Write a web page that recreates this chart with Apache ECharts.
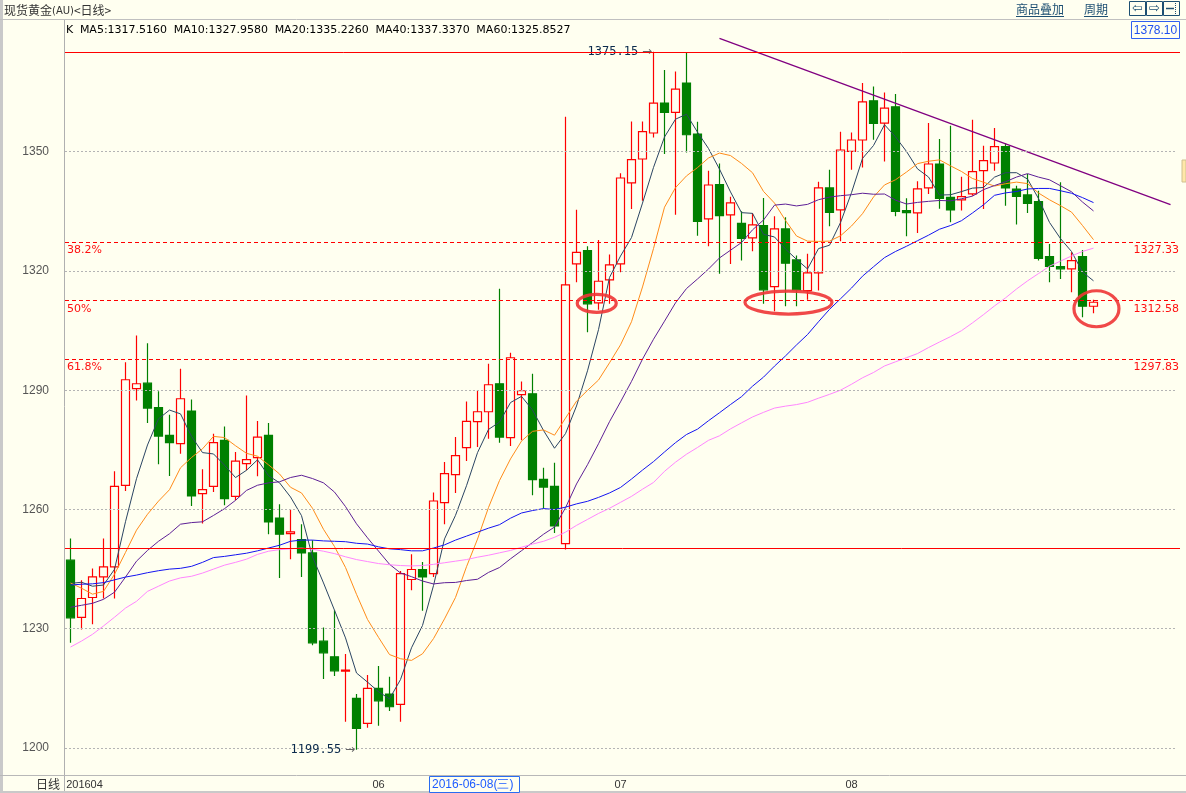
<!DOCTYPE html>
<html><head><meta charset="utf-8">
<script src="https://cdn.jsdelivr.net/npm/echarts@6/dist/echarts.min.js"></script>
<style>html,body{margin:0;padding:0;background:#FFFFF0;overflow:hidden}#c{width:1186px;height:793px}</style>
</head><body><div id="c"></div>
<script>
// ---------------- data ----------------
const dates = ['2016-04-22','2016-04-25','2016-04-26','2016-04-27','2016-04-28','2016-04-29',
'2016-05-02','2016-05-03','2016-05-04','2016-05-05','2016-05-06','2016-05-09','2016-05-10','2016-05-11','2016-05-12','2016-05-13','2016-05-16','2016-05-17','2016-05-18','2016-05-19','2016-05-20','2016-05-23','2016-05-24','2016-05-25','2016-05-26','2016-05-27','2016-05-30','2016-05-31',
'2016-06-01','2016-06-02','2016-06-03','2016-06-06','2016-06-07','2016-06-08','2016-06-09','2016-06-10','2016-06-13','2016-06-14','2016-06-15','2016-06-16','2016-06-17','2016-06-20','2016-06-21','2016-06-22','2016-06-23','2016-06-24','2016-06-27','2016-06-28','2016-06-29','2016-06-30',
'2016-07-01','2016-07-04','2016-07-05','2016-07-06','2016-07-07','2016-07-08','2016-07-11','2016-07-12','2016-07-13','2016-07-14','2016-07-15','2016-07-18','2016-07-19','2016-07-20','2016-07-21','2016-07-22','2016-07-25','2016-07-26','2016-07-27','2016-07-28','2016-07-29',
'2016-08-01','2016-08-02','2016-08-03','2016-08-04','2016-08-05','2016-08-08','2016-08-09','2016-08-10','2016-08-11','2016-08-12','2016-08-15','2016-08-16','2016-08-17','2016-08-18','2016-08-19','2016-08-22','2016-08-23','2016-08-24','2016-08-25','2016-08-26','2016-08-29','2016-08-30','2016-08-31',
'2016-09-01','2016-09-02','2016-09-05','2016-09-06','2016-09-07','2016-09-08','2016-09-09'];

// [open, close, low, high]
const candles = [
[1247.24,1232.74,1226.46,1252.69],[1232.84,1237.61,1229.82,1242.21],[1237.86,1243.04,1231.16,1245.15],[1243.04,1245.55,1237.61,1252.69],[1245.55,1265.83,1237.61,1269.60],
[1266.08,1292.64,1264.65,1297.06],[1290.38,1291.63,1287.44,1303.77],[1291.78,1285.50,1281.73,1301.83],[1285.60,1278.47,1271.36,1289.77],[1278.64,1276.81,1268.42,1283.84],
[1276.56,1287.86,1274.05,1295.40],[1284.75,1263.39,1260.88,1287.69],[1263.99,1265.00,1256.46,1270.10],[1265.83,1276.81,1264.40,1279.07],[1277.39,1262.74,1261.06,1280.90],
[1263.32,1272.19,1262.31,1274.45],[1271.53,1272.54,1269.85,1288.69],[1273.04,1278.22,1268.34,1282.24],[1278.64,1256.86,1253.77,1281.73],[1257.86,1253.77,1242.79,1261.31],
[1253.94,1254.35,1247.49,1259.97],[1252.44,1249.07,1243.04,1256.28],[1249.07,1226.46,1225.88,1252.26],[1226.88,1223.94,1217.34,1230.33],[1222.94,1219.42,1218.09,1234.67],
[1219.35,1219.60,1206.61,1223.62],[1212.49,1204.95,1199.55,1213.57],[1206.21,1215.00,1205.10,1218.34],[1215.00,1211.88,1205.60,1220.60],[1213.57,1210.38,1209.30,1217.91],
[1210.98,1243.89,1206.61,1244.55],[1242.39,1244.90,1239.70,1248.74],[1244.90,1243.04,1234.50,1246.81],[1243.89,1262.14,1243.04,1264.25],[1261.73,1269.02,1256.28,1271.93],
[1268.77,1273.54,1264.15,1278.22],[1275.55,1282.16,1272.19,1287.19],[1282.08,1284.59,1275.70,1289.95],[1284.59,1291.38,1277.81,1296.66],[1291.63,1278.22,1276.81,1315.50],
[1278.06,1298.17,1275.95,1299.42],[1288.87,1289.87,1277.39,1292.21],[1289.12,1267.51,1263.57,1294.15],[1267.59,1265.65,1260.23,1270.53],[1265.83,1255.85,1254.10,1271.78],
[1251.43,1316.50,1249.92,1358.79],[1321.78,1324.70,1317.16,1335.43],[1325.13,1311.73,1304.60,1326.21],[1311.98,1317.41,1310.23,1327.81],[1317.76,1321.53,1311.73,1324.12],
[1321.78,1343.39,1319.67,1344.55],[1342.14,1347.99,1335.60,1357.61],[1348.17,1355.03,1337.69,1357.61],[1354.70,1362.24,1353.59,1375.15],[1362.24,1359.87,1349.42,1370.53],
[1359.87,1365.75,1334.17,1370.18],[1367.26,1354.27,1349.82,1374.90],[1354.45,1332.49,1328.89,1357.54],[1333.09,1341.63,1326.21,1345.23],[1341.71,1333.92,1319.27,1347.06],
[1334.10,1337.11,1321.78,1338.69],[1331.98,1328.22,1322.61,1335.00],[1328.32,1331.58,1324.95,1334.50],[1331.41,1315.25,1311.73,1338.37],[1316.08,1330.58,1309.87,1333.74],
[1330.58,1321.94,1311.13,1333.49],[1322.79,1315.25,1311.13,1323.87],[1315.08,1319.52,1312.73,1324.30],[1319.52,1340.88,1315.08,1342.46],[1340.88,1334.75,1331.23,1345.48],
[1335.35,1350.43,1327.46,1355.03],[1350.08,1352.94,1345.48,1354.85],[1352.94,1362.56,1346.05,1367.26],[1362.81,1357.11,1353.02,1366.41],[1357.21,1360.98,1347.56,1364.90],
[1361.31,1335.00,1333.74,1364.49],[1335.18,1334.67,1328.72,1338.27],[1334.60,1340.63,1329.57,1342.54],[1340.88,1346.91,1339.37,1357.21],[1346.91,1338.27,1335.68,1353.19],
[1338.52,1335.35,1332.24,1356.53],[1337.86,1338.69,1335.18,1343.72],[1339.37,1344.97,1338.94,1358.04],[1345.23,1347.74,1335.60,1351.51],[1347.16,1351.26,1345.23,1355.95],
[1351.26,1340.88,1336.43,1352.09],[1340.60,1338.77,1331.66,1341.46],[1339.12,1337.01,1334.60,1344.40],[1337.44,1323.19,1322.61,1340.20],[1323.62,1321.18,1317.16,1326.81],
[1321.11,1320.53,1318.01,1342.29],[1320.53,1322.61,1314.65,1324.70],[1323.62,1311.13,1308.37,1325.30],[1311.13,1312.13,1309.37,1312.74]];

const ma5 = [1241.4,1241.7,1240.7,1241.0,1244.95,1256.93,1267.74,1276.23,1282.81,1285.01,
1284.05,1278.41,1274.31,1273.97,1271.16,1268.03,1269.86,1272.50,1268.51,1266.72,
1263.15,1258.45,1248.10,1241.52,1234.65,1227.70,1218.87,1216.58,1214.17,1212.36,
1217.22,1225.21,1230.82,1240.87,1252.60,1258.53,1265.98,1274.29,1280.14,1281.98,
1286.90,1288.45,1285.03,1279.88,1275.41,1279.08,1286.04,1294.89,1305.24,1318.37,
1323.75,1328.41,1337.07,1346.04,1353.70,1358.18,1359.43,1354.92,1350.80,1345.61,
1339.88,1334.67,1334.49,1329.22,1328.55,1325.51,1322.92,1320.51,1325.63,1326.47,
1332.17,1339.70,1348.31,1351.56,1356.80,1353.72,1350.06,1345.68,1343.64,1339.10,
1339.17,1339.97,1340.84,1341.00,1343.60,1344.71,1344.72,1343.13,1338.22,1332.21,
1328.14,1324.90,1319.73,1317.52];
const ma10 = [1241.5,1240.2,1238.7,1239.4,1243.7,1249.2,1254.8,1258.8,1262.1,1264.98,
1270.49,1273.07,1275.27,1278.39,1278.09,1276.04,1274.13,1273.40,1271.24,1268.94,
1265.59,1264.16,1260.30,1255.01,1250.68,1245.42,1238.66,1232.34,1227.84,1223.51,
1222.46,1222.04,1223.70,1227.52,1232.48,1237.87,1245.60,1252.55,1260.50,1267.29,
1272.72,1277.21,1279.66,1280.01,1278.69,1282.99,1287.24,1289.96,1292.56,1296.89,
1301.41,1307.23,1315.98,1325.64,1336.04,1340.96,1343.92,1346.00,1348.42,1349.66,
1349.03,1347.05,1344.71,1340.01,1337.08,1332.70,1328.80,1327.50,1327.43,1327.51,
1328.84,1331.31,1334.41,1338.60,1341.64,1342.94,1344.88,1347.00,1347.60,1347.95,
1346.44,1345.02,1343.26,1342.32,1341.35,1341.94,1342.35,1341.98,1339.61,1337.90,
1336.42,1334.81,1331.43,1327.87];
const ma20 = [1235.4,1235.9,1236.4,1237.4,1239.2,1243.0,1247.0,1249.7,1252.0,1253.9,
1256.3,1256.7,1256.9,1258.5,1260.2,1262.3,1264.8,1266.1,1266.7,1266.96,
1268.04,1268.61,1267.78,1266.70,1264.38,1260.73,1256.40,1252.87,1249.54,1246.22,
1244.02,1243.10,1242.00,1241.27,1241.58,1241.65,1242.13,1242.45,1244.17,1245.40,
1247.59,1249.63,1251.68,1253.77,1255.59,1260.43,1266.42,1271.26,1276.53,1282.09,
1287.07,1292.22,1297.82,1302.82,1307.37,1311.98,1315.58,1317.98,1320.49,1323.28,
1325.22,1327.14,1330.34,1332.82,1336.56,1336.83,1336.36,1336.75,1337.92,1338.58,
1338.94,1339.18,1339.56,1339.30,1339.36,1337.82,1336.84,1337.25,1337.51,1337.73,
1337.64,1338.16,1338.83,1340.46,1341.49,1342.44,1343.62,1344.49,1343.61,1342.93,
1341.43,1339.92,1337.34,1335.10];
const ma40 = [1241.0,1241.2,1241.3,1241.6,1242.3,1243.0,1243.5,1244.1,1244.6,1245.0,
1245.2,1245.7,1246.7,1247.9,1248.2,1248.6,1249.0,1249.6,1250.3,1251.0,
1252.0,1252.3,1252.3,1252.1,1252.0,1251.9,1251.5,1251.3,1250.6,1250.1,
1249.9,1249.6,1249.6,1250.3,1251.1,1252.3,1253.3,1254.3,1255.3,1256.18,
1257.81,1259.12,1259.73,1260.23,1259.99,1260.58,1261.41,1262.06,1263.04,1264.16,
1265.54,1267.66,1269.91,1272.05,1274.47,1276.81,1278.86,1280.21,1282.33,1284.34,
1286.40,1288.38,1291.01,1293.29,1296.07,1298.63,1301.39,1304.00,1307.23,1310.34,
1313.00,1315.70,1318.69,1321.06,1323.36,1324.90,1326.21,1327.61,1329.00,1330.50,
1331.43,1332.65,1334.59,1336.64,1339.03,1339.64,1339.99,1340.62,1340.76,1340.76,
1340.18,1339.55,1338.45,1337.20];
const ma60 = [1225.4,1226.9,1228.6,1230.7,1232.9,1235.2,1236.9,1239.4,1240.7,1242.0,
1242.8,1243.2,1244.0,1245.0,1246.0,1246.7,1247.5,1248.7,1249.5,1249.9,
1250.1,1250.3,1250.0,1249.5,1248.9,1248.1,1247.4,1246.9,1246.4,1246.1,
1245.9,1245.8,1245.9,1246.2,1246.6,1247.0,1247.4,1248.0,1248.5,1249.1,
1249.7,1250.5,1251.3,1252.0,1253.0,1254.3,1256.0,1257.5,1259.0,1260.3,
1261.8,1263.3,1265.1,1266.8,1269.6,1271.9,1273.9,1275.6,1277.4,1278.54,
1280.28,1281.79,1283.27,1284.43,1285.51,1286.00,1286.39,1286.96,1288.00,1288.96,
1290.01,1291.50,1293.13,1294.46,1296.10,1297.15,1298.18,1299.22,1300.73,1302.13,
1303.48,1304.98,1306.95,1309.02,1311.21,1313.23,1315.46,1317.50,1319.35,1321.20,
1322.48,1323.77,1324.91,1325.74];

const maNames = ['MA5','MA10','MA20','MA40','MA60'];
const maLast = [1317.5160,1327.9580,1335.2260,1337.3370,1325.8527];
const yTicks = [1200,1230,1260,1290,1320,1350];
const yRange = [1193.21,1378.10];
const fibLevels = [1327.33,1312.58,1297.83];
const fibLabels = ['38.2%','50%','61.8%'];
const fibBounds = [1375.15,1250.10];
const trendLine = [['2016-07-14',1378.5],['2016-09-09',1336.7]];
const circleCenters = [[47.84,1311.86],[65.27,1312.06],[93.27,1310.50]]; // [category position, price]
const monthTickDates = ['2016-04-22','2016-06-01','2016-07-01','2016-08-01'];
const monthTickTexts = ['201604','06','07','08'];
const cursorDate = '2016-06-08';
const cursorText = '2016-06-08(三)';

// ---------------- styles ----------------
const BG = '#FFFFF0';
const maColors = ['#2b4563','#ff8c1a','#5e2096','#1414f0','#ff86ff'];
const legendColors = ['#1c2c55','#ff8000','#5a1890','#1010ee','#ff80ff'];
const circleSizes = [[19.5,9],[43.5,11.5],[22.5,18]];
const FONT = 'DejaVu Sans';
const FONT2 = 'Liberation Sans';
const CJK = 'Noto Sans CJK SC';
const RED = '#ff0000';
const GRID = {left:65, top:40, width:1111, height:735};

const chart = echarts.init(document.getElementById('c'), null, {renderer:'canvas', width:1186, height:793});

const fibLabelStyle = {show:true, color:'#ff1010', fontSize:11, fontFamily:FONT, distance:[2,3]};
const fibMarks = [];
fibLevels.forEach((v,i)=>{
  fibMarks.push({yAxis:v, label:Object.assign({}, fibLabelStyle, {position:'insideStartBottom', formatter:fibLabels[i]})});
  fibMarks.push({yAxis:v, label:Object.assign({}, fibLabelStyle, {position:'insideEndBottom', formatter:v.toFixed(2), distance:[-3,3]})});
});

const series = [
  {type:'line', name:'grid', data:[], z:1, silent:true,
   markLine:{silent:true, symbol:['none','none'], animation:false,
     lineStyle:{color:'#b4b4b4', type:[2,2], width:1}, label:{show:false},
     data: yTicks.map(v=>({yAxis:v}))}},
  {type:'line', name:'fib', data:[], z:2, silent:true,
   markLine:{silent:true, symbol:['none','none'], animation:false,
     lineStyle:{color:RED, type:[4,3], width:1}, data:fibMarks}},
  {type:'candlestick', name:'K', data:candles, barWidth:8, z:3,
   itemStyle:{color:'transparent', color0:'#008000', borderColor:'#ff0000', borderColor0:'#008000', borderWidth:1.2},
   markPoint:{symbol:'rect', symbolSize:[1,1], itemStyle:{color:'rgba(0,0,0,0)'}, animation:false,
     label:{show:true, position:'left', distance:1,
       formatter:p=>'{v|'+p.value.toFixed(2)+'}{a| →}',
       rich:{v:{color:'#0b2a4c',fontSize:12,fontFamily:'DejaVu Sans Mono'}, a:{color:'#666',fontSize:12,fontFamily:FONT}}},
     data:[{type:'max', valueDim:'highest'},{type:'min', valueDim:'lowest'}]}}
];
[ma5,ma10,ma20,ma40,ma60].forEach((arr,i)=>{
  series.push({type:'line', name:maNames[i], data:arr, z:4, symbol:'none', showSymbol:false, silent:true,
    lineStyle:{color:maColors[i], width:1}});
});
series.push({type:'line', name:'trend', data:trendLine, z:4, symbol:'none', clip:false, silent:true,
  lineStyle:{color:'#800080', width:1.3}});

// legend rich text
let legendStr = '{k|K}  ';
const legendRich = {k:{color:'#56657a',fontSize:11,fontFamily:FONT}};
maNames.forEach((n,i)=>{
  legendStr += '{m'+i+'|'+n+':'+maLast[i].toFixed(4)+'}  ';
  legendRich['m'+i] = {color:legendColors[i], fontSize:11, fontFamily:FONT};
});

const graphics = [
  {type:'rect', shape:{x:0,y:0,width:3,height:793}, style:{fill:'#c9c9c9'}, silent:true},
  {type:'line', shape:{x1:0,y1:19.5,x2:1186,y2:19.5}, style:{stroke:'#c0c0c0',lineWidth:1}, silent:true},
  {type:'line', shape:{x1:64.5,y1:20,x2:64.5,y2:793}, style:{stroke:'#b0b0b0',lineWidth:1}, silent:true},
  {type:'line', shape:{x1:0,y1:775.5,x2:1186,y2:775.5}, style:{stroke:'#b8b8b8',lineWidth:1}, silent:true},
  {type:'rect', shape:{x:0,y:791,width:1186,height:2}, style:{fill:'#c9c9c9'}, silent:true},
  {type:'text', x:4, y:10, style:{text:'{a|现货黄金}{b|(AU)}{a|<日线>}', rich:{a:{fontSize:12,fontFamily:CJK,fill:'#333'}, b:{fontSize:10,fontFamily:FONT,fill:'#333',padding:[2,0,0,0]}}, verticalAlign:'middle'}, silent:true},
  {type:'text', x:1016, y:9.5, style:{text:'商品叠加', fontSize:12, fontFamily:CJK, fill:'#1d4f72', verticalAlign:'middle'}, silent:true},
  {type:'line', shape:{x1:1016,y1:16.5,x2:1064,y2:16.5}, style:{stroke:'#1d4f72',lineWidth:1}, silent:true},
  {type:'text', x:1084, y:9.5, style:{text:'周期', fontSize:12, fontFamily:CJK, fill:'#1d4f72', verticalAlign:'middle'}, silent:true},
  {type:'line', shape:{x1:1084,y1:16.5,x2:1108,y2:16.5}, style:{stroke:'#1d4f72',lineWidth:1}, silent:true},
  {type:'rect', shape:{x:1129.5,y:1.5,width:16,height:14}, style:{fill:BG,stroke:'#1d4f72',lineWidth:1}, silent:true},
  {type:'rect', shape:{x:1146.5,y:1.5,width:16,height:14}, style:{fill:BG,stroke:'#1d4f72',lineWidth:1}, silent:true},
  {type:'rect', shape:{x:1163.5,y:1.5,width:16,height:14}, style:{fill:BG,stroke:'#1d4f72',lineWidth:1}, silent:true},
  {type:'text', x:1137.5, y:9, style:{text:'⇦', fontSize:13, fontFamily:FONT, fill:'#1d4f72', align:'center', verticalAlign:'middle'}, silent:true},
  {type:'text', x:1154.5, y:9, style:{text:'⇨', fontSize:13, fontFamily:FONT, fill:'#1d4f72', align:'center', verticalAlign:'middle'}, silent:true},
  {type:'line', shape:{x1:1166,y1:8.5,x2:1174,y2:8.5}, style:{stroke:'#1d4f72',lineWidth:1.5}, silent:true},
  {type:'line', shape:{x1:1175.5,y1:3,x2:1175.5,y2:14}, style:{stroke:'#1d4f72',lineWidth:1,lineDash:[1,1]}, silent:true},
  {type:'text', x:66, y:30, style:{text:legendStr, rich:legendRich, verticalAlign:'middle'}, silent:true},
  {type:'rect', shape:{x:1131.5,y:21.5,width:48,height:17}, style:{fill:BG,stroke:'#2f5ff0',lineWidth:1}, silent:true},
  {type:'text', x:1155.5, y:30.5, style:{text:yRange[1].toFixed(2), fontSize:12, fontFamily:FONT2, fill:'#2050f0', align:'center', verticalAlign:'middle'}, silent:true},
  {type:'text', x:36, y:784, style:{text:'日线', fontSize:12, fontFamily:CJK, fill:'#333', verticalAlign:'middle'}, silent:true},
  {type:'rect', shape:{x:1182,y:160,width:4,height:22}, style:{fill:'#ffe7a8',stroke:'#d0c090',lineWidth:1}, silent:true}
];

chart.setOption({
  animation:false,
  backgroundColor:BG,
  grid:Object.assign({containLabel:false}, GRID),
  xAxis:{type:'category', data:dates, boundaryGap:true,
    axisLine:{show:false, onZero:false}, axisTick:{show:false}, splitLine:{show:false},
    axisLabel:{interval:(i,v)=>monthTickDates.indexOf(v)>=0, margin:4, color:'#333', fontSize:11, fontFamily:FONT2,
      formatter:(v)=>{const k=monthTickDates.indexOf(v); return k===0?'{f|'+monthTickTexts[k]+'}':monthTickTexts[k];},
      rich:{f:{padding:[0,0,0,28],color:'#333',fontSize:11,fontFamily:FONT2}}}},
  yAxis:{type:'value', min:yRange[0], max:yRange[1], position:'left',
    axisLine:{show:false}, axisTick:{show:false, customValues:yTicks}, splitLine:{show:false},
    axisLabel:{customValues:yTicks, formatter:v=>String(v), color:'#555', fontSize:12, fontFamily:FONT2, margin:16}},
  series:series,
  graphic:graphics
});

// annotations positioned from data through the chart's scales
function catX(f){
  const i=Math.floor(f);
  const a=chart.convertToPixel({xAxisIndex:0}, i);
  const b=chart.convertToPixel({xAxisIndex:0}, i+1);
  return a+(b-a)*(f-i);
}
const extra = [];
fibBounds.forEach(v=>{
  const py = chart.convertToPixel({yAxisIndex:0}, v);
  const y = 2*Math.round(py/2) + 0.5;
  extra.push({type:'line', shape:{x1:GRID.left, y1:y, x2:GRID.left+GRID.width+4, y2:y}, style:{stroke:RED, lineWidth:1}, silent:true, z:200});
});
circleCenters.forEach((c,i)=>{
  extra.push({type:'ellipse', shape:{cx:catX(c[0]), cy:chart.convertToPixel({yAxisIndex:0}, c[1]), rx:circleSizes[i][0], ry:circleSizes[i][1]},
    style:{fill:'none', stroke:'#ee3535', lineWidth:3.2, opacity:0.9}, silent:true, z:100});
});
const ci = dates.indexOf(cursorDate);
const cx = chart.convertToPixel({xAxisIndex:0}, ci) - 5;
extra.push({type:'rect', shape:{x:Math.round(cx)+0.5, y:776.5, width:90, height:16}, style:{fill:BG, stroke:'#2a6cf0', lineWidth:1}, silent:true, z:100});
extra.push({type:'text', x:Math.round(cx)+3, y:785, style:{text:cursorText, fontSize:12, fontFamily:FONT2, fill:'#1e5cff', verticalAlign:'middle'}, silent:true, z:101});
chart.setOption({graphic: graphics.concat(extra)});
</script>
</body></html>
